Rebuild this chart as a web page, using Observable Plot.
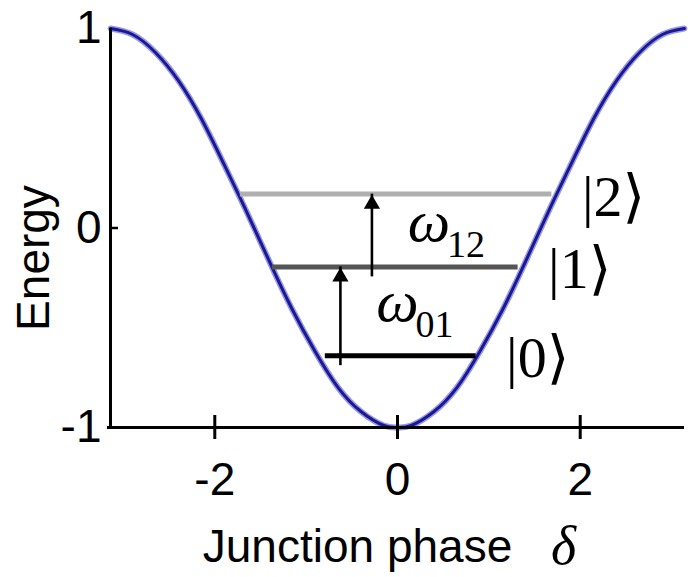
<!DOCTYPE html>
<html>
<head>
<meta charset="utf-8">
<script src="https://cdn.jsdelivr.net/npm/d3@7"></script>
<script src="https://cdn.jsdelivr.net/npm/@observablehq/plot@0.6"></script>
<style>
  html, body { margin: 0; padding: 0; background: #fff; }
  #chart svg { display: block; }
</style>
</head>
<body>
<div id="chart"></div>
<script>
// Josephson junction potential: energy versus junction phase
const phase  = [-3.14, -2.9, -2.65, -2.4, -2.15, -1.9, -1.65, -1.4, -1.15, -0.9, -0.65, -0.4, -0.15, 0,
                 0.15, 0.4, 0.65, 0.9, 1.15, 1.4, 1.65, 1.9, 2.15, 2.4, 2.65, 2.9, 3.14];
const energy = [1.00, 0.97, 0.88, 0.74, 0.55, 0.32, 0.08, -0.17, -0.41, -0.62, -0.80, -0.92, -0.99, -1.00,
                -0.99, -0.92, -0.80, -0.62, -0.41, -0.17, 0.08, 0.32, 0.55, 0.74, 0.88, 0.97, 1.00];

// Bound states |0>, |1>, |2>
const levelNames  = ["0", "1", "2"];
const levelEnergy = [-0.64, -0.195, 0.17];
const levelLeft   = [-0.79, -1.37, -1.72];
const levelRight  = [0.86, 1.32, 1.69];
const levelColors = ["#000000", "#555555", "#b0b0b0"];

// Transitions between neighbouring levels
const transNames = ["01", "12"];
const transPhase = [-0.625, -0.28];
const transFrom  = [-0.64, -0.195];
const transTo    = [-0.195, 0.17];

const xTicks = [-2, 0, 2];
const yTicks = [-1, 0, 1];

const curve = phase.map((d, i) => ({phase: d, energy: energy[i]}));
const levels = levelNames.map((n, i) => ({
  name: n, e: levelEnergy[i], x1: levelLeft[i], x2: levelRight[i], color: levelColors[i]
}));
const trans = transNames.map((n, i) => ({
  name: n, x: transPhase[i], y1: transFrom[i], y2: transTo[i], mid: (transFrom[i] + transTo[i]) / 2
}));

const sans = "Liberation Sans, Arial, sans-serif";
const serif = "Liberation Serif, Times New Roman, serif";

const chart = Plot.plot({
  width: 692,
  height: 577,
  marginLeft: 110,
  marginRight: 8,
  marginTop: 28,
  marginBottom: 150,
  style: {background: "#fff", color: "#000"},
  x: {domain: [-Math.PI, Math.PI]},
  y: {domain: [-1, 1]},
  marks: [
    // potential well
    Plot.line(curve, {x: "phase", y: "energy", curve: "natural", stroke: "#4040e0", strokeWidth: 6, strokeOpacity: 0.55}),
    Plot.line(curve, {x: "phase", y: "energy", curve: "natural", stroke: "#1a1a8c", strokeWidth: 3}),
    // energy levels
    Plot.ruleY(levels, {y: "e", x1: "x1", x2: "x2", stroke: "color", strokeWidth: 5}),
    // transition arrows
    Plot.ruleX(trans, {x: "x", y1: "y1", y2: "y2", stroke: "#000", strokeWidth: 2.6, insetTop: 10}),
    Plot.dot(trans, {x: "x", y: "y2", symbol: "triangle", r: 6, fill: "#000", stroke: "none", dy: 10}),
    // transition labels
    Plot.text(trans, {x: "x", y: "mid", text: () => "ω", fontFamily: serif, fontStyle: "italic", fontSize: 60, dx: 57, dy: -9}),
    Plot.text(trans, {x: "x", y: "mid", text: "name", fontFamily: serif, fontSize: 38, dx: 94, dy: 14}),
    // kets |n>
    Plot.text(levels, {x: "x2", y: "e", text: d => "|" + d.name + "⟩", fontFamily: "Liberation Serif, DejaVu Serif, serif", fontSize: 58, textAnchor: "start", dx: 30, dy: 3}),
    // axes
    Plot.ruleX([-Math.PI], {stroke: "#000", strokeWidth: 3}),
    Plot.ruleY([-1], {stroke: "#000", strokeWidth: 3, insetLeft: -3}),
    Plot.axisY({ticks: [0], tickSize: 8, dx: 8, tickFormat: () => "", strokeWidth: 2.5}),
    Plot.axisX({ticks: xTicks, tickSize: 24, dy: -12, tickFormat: () => "", strokeWidth: 3}),
    // tick labels
    Plot.text(xTicks, {x: d => d, y: () => -1, text: d => String(d), fontFamily: sans, fontSize: 46, dy: 53}),
    Plot.text(yTicks, {y: d => d, frameAnchor: "left", text: d => String(d), textAnchor: "end", fontFamily: sans, fontSize: 46, dx: -9}),
    // axis titles
    Plot.text(["Energy"], {frameAnchor: "left", textAnchor: "middle", lineAnchor: "middle", rotate: -90, fontSize: 46, fontFamily: sans, dx: -76, dy: 30}),
    Plot.text(["Junction phase"], {frameAnchor: "bottom", fontSize: 46, fontFamily: sans, dx: -40, dy: 134}),
    Plot.text(["δ"], {frameAnchor: "bottom", fontSize: 54, fontFamily: serif, fontStyle: "italic", dx: 166, dy: 136})
  ]
});

document.getElementById("chart").appendChild(chart);
</script>
</body>
</html>
